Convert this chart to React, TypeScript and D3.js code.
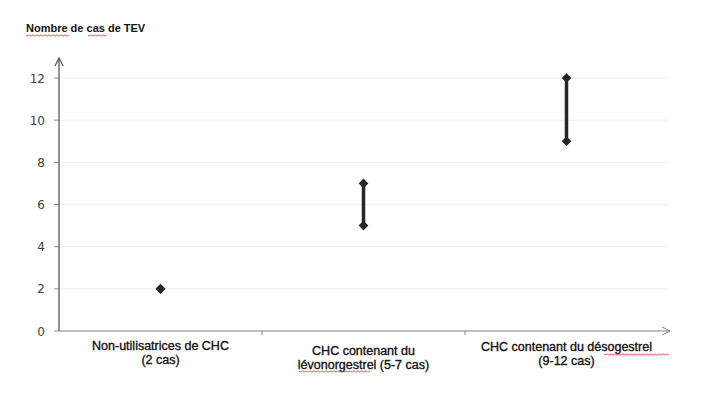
import * as React from 'react';
import * as d3 from 'd3';

const categories = ['Non-utilisatrices de CHC', 'CHC contenant du lévonorgestrel', 'CHC contenant du désogestrel'];
const categoryLines = [
  ['Non-utilisatrices de CHC', '(2 cas)'],
  ['CHC contenant du', 'lévonorgestrel (5-7 cas)'],
  ['CHC contenant du désogestrel', '(9-12 cas)'],
];
const labelBaselines = [350, 355, 351];
const lowValues = [2, 5, 9];
const highValues = [2, 7, 12];
const yTicks = [0, 2, 4, 6, 8, 10, 12];
const yTitle = 'Nombre de cas de TEV';

const W = 706, H = 399;
const left = 59, right = 668, top = 78, bottom = 331;

function squiggle(x0: number, x1: number, y: number) {
  let d = `M${x0},${y}`;
  for (let x = x0; x < x1; x += 2) d += ` L${x + 1},${y + ((x - x0) / 2 % 2 === 0 ? 1.2 : -0.2)}`;
  return d;
}

export default function App() {
  const ref = React.useRef<SVGSVGElement>(null);

  React.useEffect(() => {
    const svg = d3.select(ref.current);
    svg.selectAll('*').remove();

    const x = d3.scaleBand().domain(categories).range([left, right]);
    const y = d3.scaleLinear().domain([0, 12]).range([bottom, top]);

    // gridlines
    svg.append('g').selectAll('line').data(yTicks.filter(t => t > 0)).enter().append('line')
      .attr('x1', left).attr('x2', right)
      .attr('y1', d => y(d)).attr('y2', d => y(d))
      .attr('stroke', '#efefef').attr('stroke-width', 1);

    // y tick marks and labels
    const yg = svg.append('g');
    yg.selectAll('line').data(yTicks).enter().append('line')
      .attr('x1', left - 5).attr('x2', left)
      .attr('y1', d => y(d)).attr('y2', d => y(d))
      .attr('stroke', '#8c8c8c');
    yg.selectAll('text').data(yTicks).enter().append('text')
      .attr('x', 45).attr('y', d => y(d) + 4.5)
      .attr('text-anchor', 'end')
      .style('font-family', '"DejaVu Sans", sans-serif')
      .style('font-size', '12px')
      .attr('fill', '#404040')
      .text(d => d);

    // axes with arrows
    svg.append('line').attr('x1', left).attr('x2', left).attr('y1', bottom).attr('y2', 58)
      .attr('stroke', '#595959').attr('stroke-width', 1.3);
    svg.append('path').attr('d', `M${left - 4},${66} L${left},${58} L${left + 4},${66}`)
      .attr('fill', 'none').attr('stroke', '#595959').attr('stroke-width', 1.3);
    svg.append('line').attr('x1', left).attr('x2', 670).attr('y1', bottom).attr('y2', bottom)
      .attr('stroke', '#7f7f7f').attr('stroke-width', 1);
    svg.append('path').attr('d', `M${662},${bottom - 4} L${670},${bottom} L${662},${bottom + 4}`)
      .attr('fill', 'none').attr('stroke', '#7f7f7f').attr('stroke-width', 1);

    // category separators
    svg.append('g').selectAll('line').data(categories.slice(1)).enter().append('line')
      .attr('x1', d => x(d)!).attr('x2', d => x(d)!)
      .attr('y1', bottom).attr('y2', bottom + 4)
      .attr('stroke', '#7f7f7f');

    // category labels
    categoryLines.forEach((lines, i) => {
      const cx = x(categories[i])! + x.bandwidth() / 2;
      lines.forEach((t, j) => {
        svg.append('text')
          .attr('x', cx).attr('y', labelBaselines[i] + j * 14)
          .attr('text-anchor', 'middle')
          .style('font-family', '"Liberation Sans", Arial, sans-serif')
          .style('font-size', '12.5px')
          .attr('fill', '#111')
          .attr('stroke', '#111').attr('stroke-width', 0.35)
          .text(t);
      });
    });
    // spell-check squiggles
    svg.append('path').attr('d', squiggle(299, 370, 371)).attr('fill', 'none').attr('stroke', '#e03030').attr('stroke-width', 0.8);
    svg.append('path').attr('d', squiggle(604, 669, 354)).attr('fill', 'none').attr('stroke', '#e03030').attr('stroke-width', 0.8);

    // error bars
    const g = svg.append('g');
    categories.forEach((c, i) => {
      const cx = x(c)! + x.bandwidth() / 2;
      if (highValues[i] !== lowValues[i]) {
        g.append('line').attr('x1', cx).attr('x2', cx)
          .attr('y1', y(lowValues[i])).attr('y2', y(highValues[i]))
          .attr('stroke', '#262626').attr('stroke-width', 3.5);
      }
      const sym = d3.symbol().type(d3.symbolDiamond2).size(60);
      [lowValues[i], highValues[i]].forEach(v => {
        g.append('path').attr('d', sym()!)
          .attr('transform', `translate(${cx},${y(v)})`)
          .attr('fill', '#262626');
      });
    });

    // title
    svg.append('text').attr('x', 26).attr('y', 32)
      .style('font-family', '"Liberation Sans", Arial, sans-serif')
      .style('font-size', '11px').style('font-weight', 'bold')
      .attr('fill', '#111')
      .text(yTitle);
    svg.append('path').attr('d', squiggle(26, 70, 35)).attr('fill', 'none').attr('stroke', '#e03030').attr('stroke-width', 0.8);
    svg.append('path').attr('d', squiggle(88, 107, 35)).attr('fill', 'none').attr('stroke', '#e03030').attr('stroke-width', 0.8);
  }, []);

  return (
    <div style={{ position: 'absolute', left: 0, top: 0, background: '#fff' }}>
      <svg ref={ref} width={W} height={H} />
    </div>
  );
}
